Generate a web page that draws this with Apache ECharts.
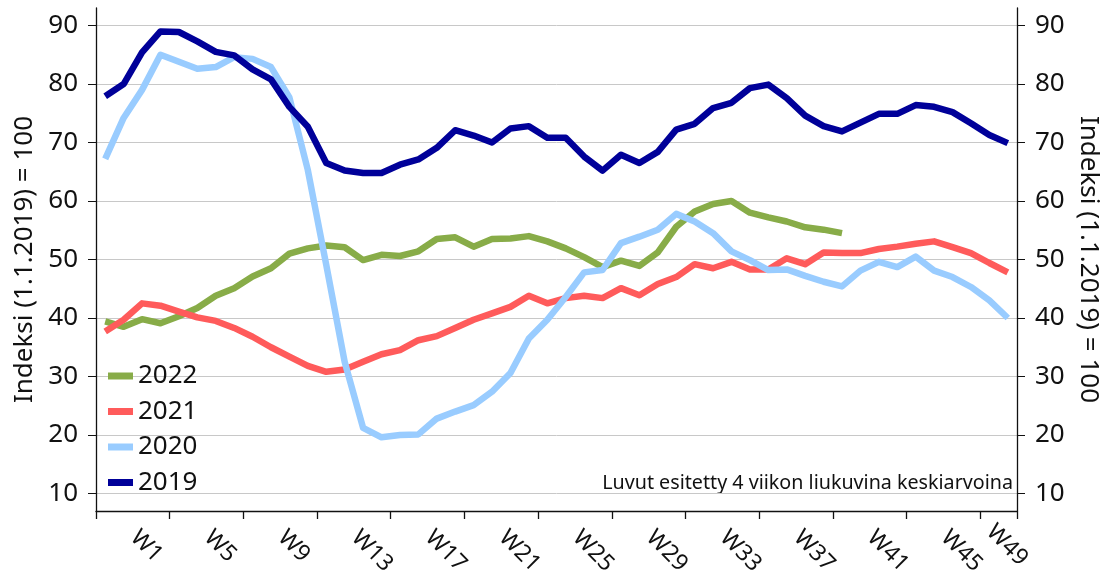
<!DOCTYPE html>
<html>
<head>
<meta charset="utf-8">
<script src="https://cdn.jsdelivr.net/npm/echarts@6/dist/echarts.min.js"></script>
<style>
  html, body { margin: 0; padding: 0; background: #fff; }
  #chart { width: 1103px; height: 583px; }
</style>
</head>
<body>
<div id="chart"></div>
<script>
// --- data ---
const weeks = ['W1','W2','W3','W4','W5','W6','W7','W8','W9','W10',
  'W11','W12','W13','W14','W15','W16','W17','W18','W19','W20',
  'W21','W22','W23','W24','W25','W26','W27','W28','W29','W30',
  'W31','W32','W33','W34','W35','W36','W37','W38','W39','W40',
  'W41','W42','W43','W44','W45','W46','W47','W48','W49','W50'];

const yTicks = [10, 20, 30, 40, 50, 60, 70, 80, 90];

const s2022 = [39.4, 38.5, 39.8, 39.1, 40.3, 41.7, 43.8, 45.1, 47.1, 48.5,
  51.0, 51.9, 52.4, 52.1, 49.9, 50.8, 50.6, 51.4, 53.5, 53.8,
  52.2, 53.5, 53.6, 54.0, 53.1, 51.9, 50.4, 48.7, 49.8, 48.9,
  51.2, 55.6, 58.2, 59.5, 60.0, 58.0, 57.2, 56.5, 55.5, 55.1, 54.5];

const s2021 = [37.7, 39.7, 42.5, 42.1, 41.1, 40.1, 39.5, 38.3, 36.8, 35.0,
  33.4, 31.8, 30.8, 31.2, 32.5, 33.8, 34.5, 36.2, 36.9, 38.3,
  39.7, 40.8, 41.9, 43.8, 42.5, 43.4, 43.8, 43.4, 45.1, 43.9,
  45.8, 47.0, 49.2, 48.5, 49.6, 48.3, 48.3, 50.2, 49.2, 51.2,
  51.1, 51.1, 51.8, 52.2, 52.7, 53.1, 52.1, 51.1, 49.4, 47.8];

const s2020 = [67.2, 74.2, 79.0, 85.0, 83.8, 82.6, 82.9, 84.6, 84.3, 82.9,
  77.7, 65.3, 49.1, 32.5, 21.2, 19.6, 20.0, 20.1, 22.8, 24.0,
  25.1, 27.4, 30.6, 36.5, 39.7, 43.6, 47.8, 48.2, 52.8, 53.9,
  55.1, 57.8, 56.5, 54.5, 51.4, 49.9, 48.2, 48.3, 47.2, 46.2,
  45.4, 48.1, 49.6, 48.7, 50.5, 48.1, 47.0, 45.3, 43.0, 40.0];

const s2019 = [77.9, 80.0, 85.4, 89.0, 88.9, 87.3, 85.5, 84.9, 82.5, 80.8,
  76.1, 72.7, 66.5, 65.2, 64.8, 64.8, 66.2, 67.1, 69.1, 72.1,
  71.2, 70.0, 72.4, 72.8, 70.8, 70.8, 67.6, 65.2, 67.9, 66.5,
  68.4, 72.2, 73.2, 75.9, 76.8, 79.3, 79.9, 77.6, 74.6, 72.8,
  71.9, 73.4, 74.9, 74.9, 76.4, 76.1, 75.2, 73.3, 71.3, 69.9];

const axisName = 'Indeksi (1.1.2019) = 100';
const note = 'Luvut esitetty 4 viikon liukuvina keskiarvoina';

// --- chart ---
const FONT = '"Noto Sans", "Open Sans", sans-serif';
const chart = echarts.init(document.getElementById('chart'));

function yAxisConf(pos) {
  return {
    type: 'value', position: pos, min: 7, max: 93,
    name: axisName, nameLocation: 'middle', nameGap: 56,
    nameRotate: pos === 'left' ? 90 : -90,
    nameTextStyle: { fontFamily: FONT, fontSize: 26, color: '#111' },
    axisLine: { show: true, lineStyle: { color: '#111', width: 1.3 } },
    axisTick: { show: true, length: 8, customValues: yTicks, lineStyle: { color: '#111' } },
    axisLabel: { customValues: yTicks, margin: 18, fontFamily: FONT, fontSize: 26, color: '#111' },
    splitLine: { show: pos === 'left', lineStyle: { color: '#c8c8c8', width: 1 } }
  };
}

function line(name, data, color) {
  return {
    name: name, type: 'line', data: data, yAxisIndex: 0,
    showSymbol: false, symbol: 'none',
    lineStyle: { color: color, width: 6.5, join: 'round', cap: 'butt' },
    itemStyle: { color: color }
  };
}

chart.setOption({
  animation: false,
  grid: { left: 96, right: 86, top: 8, bottom: 72, outerBoundsMode: 'none' },
  legend: {
    orient: 'vertical', left: 103, top: 358,
    icon: 'rect', itemWidth: 25, itemHeight: 7, itemGap: 9.5, itemTextGap: 5,
    textStyle: { fontFamily: FONT, fontSize: 26, color: '#111' }
  },
  xAxis: {
    type: 'category', data: weeks, boundaryGap: true,
    axisLine: { lineStyle: { color: '#111', width: 1.3 } },
    axisTick: { show: true, length: 8, interval: 3, lineStyle: { color: '#111', width: 1.3 } },
    axisLabel: {
      interval: (i) => i % 4 === 0,
      rotate: -45, margin: 4, color: '#111',
      formatter: (v, i) => (i === weeks.length - 2 ? '{e|' + v + '}' : '{n|' + v + '}'),
      rich: {
        n: { fontFamily: FONT, fontSize: 23, color: '#111', padding: [0, 0, 14, 34] },
        e: { fontFamily: FONT, fontSize: 23, color: '#111', padding: [18, 0, 0, 10] }
      }
    },
    splitLine: { show: false }
  },
  yAxis: [yAxisConf('left'), yAxisConf('right')],
  graphic: [{
    type: 'text', right: 90, top: 473,
    style: { text: note, font: '19.7px ' + FONT, fill: '#111' }
  }],
  series: [
    line('2022', s2022, '#88ac48'),
    line('2021', s2021, '#ff5b5b'),
    line('2020', s2020, '#99ccff'),
    line('2019', s2019, '#000099')
  ]
});
</script>
</body>
</html>
